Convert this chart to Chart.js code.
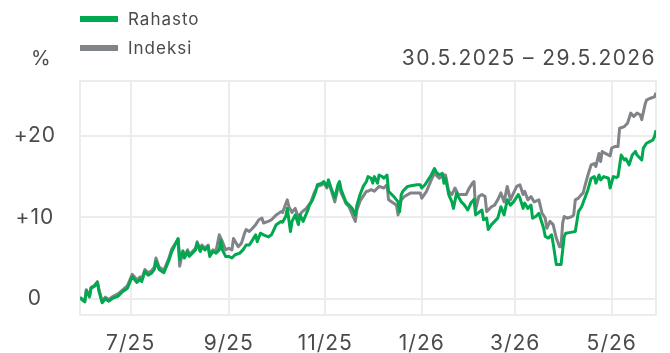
<!DOCTYPE html>
<html lang="fi">
<head>
<meta charset="utf-8">
<title>Rahasto vs Indeksi</title>
<script src="https://cdn.jsdelivr.net/npm/chart.js@4.4.1/dist/chart.umd.min.js"></script>
<style>
  body { margin: 0; background: #fff; font-family: Inter, "Noto Sans", sans-serif; color: #4a4a4a; }
  .wrap { position: relative; width: 670px; height: 353px; }
  #perfChart { position: absolute; left: 0; top: 0; }
  .legend { position: absolute; left: 80px; top: 4px; font-size: 17px; letter-spacing: 1px; }
  .legend div { display: flex; align-items: center; height: 29px; }
  .legend span.sw { display: inline-block; width: 38px; height: 6px; margin-right: 10px; }
  .unit { position: absolute; left: 31px; top: 46px; font-size: 20px; }
  .period { position: absolute; right: 14px; top: 45px; font-size: 21px; letter-spacing: 1.4px; }
</style>
</head>
<body>
<div class="wrap">
  <canvas id="perfChart" width="670" height="353"></canvas>
  <div class="legend">
    <div><span class="sw" style="background:#00a84f"></span>Rahasto</div>
    <div><span class="sw" style="background:#808387"></span>Indeksi</div>
  </div>
  <div class="unit">%</div>
  <div class="period">30.5.2025 – 29.5.2026</div>
</div>
<script>
// days counted from 30.5.2025
const fundDays = [0, 3, 4, 6, 7, 9, 11, 12, 14, 16, 18, 21, 24, 27, 30, 33, 36, 38, 39, 41, 43, 45, 47, 48, 50, 53, 56, 58,
  62, 63, 65, 66, 68, 69, 71, 73, 74, 76, 77, 79, 81, 82, 84, 86, 88, 89, 90, 92, 94, 96, 98, 101, 103, 105, 107, 109, 111,
  112, 114, 116, 119, 121, 124, 127, 128, 130, 131, 133, 134, 136, 138, 139, 141, 144, 145, 147, 149, 150, 153, 154, 156,
  157, 159, 161, 163, 164, 165, 167, 168, 170, 172, 174, 175, 177, 179, 181, 182, 184, 185, 186, 188, 189, 191, 192, 194,
  195, 197, 199, 201, 202, 203, 204, 207, 210, 213, 215, 216, 218, 220, 222, 224, 225, 227, 229, 230, 231, 233, 235, 236,
  238, 239, 241, 243, 245, 247, 249, 250, 252, 254, 255, 257, 258, 260, 262, 264, 266, 268, 270, 272, 274, 275, 277, 278,
  280, 281, 283, 285, 286, 288, 290, 293, 294, 296, 298, 299, 301, 304, 306, 307, 310, 313, 315, 317, 319, 321, 323, 325,
  326, 328, 329, 331, 334, 335, 337, 339, 340, 342, 344, 345, 347, 349, 351, 352, 355, 356, 358, 360, 362, 363, 364];
const fundValues = [0.1, -0.4, 1.0, 0.3, 1.3, 1.5, 2.0, 0.9, -0.5, 0.0, -0.3, 0.1, 0.3, 0.9, 1.3, 2.7, 2.0, 2.4, 2.1, 3.35,
  2.9, 3.1, 3.6, 4.6, 3.6, 3.2, 4.6, 5.8, 7.4, 4.8, 5.8, 5.0, 5.8, 5.2, 5.6, 6.0, 6.8, 5.8, 6.4, 6.0, 6.4, 5.2, 5.8, 5.6, 6.0,
  7.2, 6.0, 5.2, 5.2, 5.0, 5.4, 5.6, 6.0, 6.6, 6.6, 7.2, 7.85, 7.0, 8.05, 7.85, 7.6, 7.85, 9.1, 9.5, 9.4, 10.1, 11.1, 8.25,
  9.5, 10.3, 9.1, 10.3, 9.5, 10.9, 11.5, 12.15, 13.2, 14.0, 14.2, 14.4, 13.8, 14.6, 13.4, 12.4, 14.0, 14.4, 13.4, 12.4, 11.9,
  11.5, 11.1, 10.3, 11.5, 12.8, 13.8, 14.4, 15.0, 14.8, 14.2, 15.0, 14.2, 15.2, 15.0, 14.8, 15.2, 13.2, 12.8, 12.4, 11.9,
  10.7, 12.8, 13.2, 13.8, 13.9, 14.0, 14.0, 13.6, 14.0, 14.6, 15.2, 16.0, 15.6, 15.2, 15.4, 14.2, 14.8, 12.8, 11.9, 11.1,
  13.0, 12.55, 11.9, 11.5, 10.9, 11.75, 12.2, 10.3, 10.6, 10.9, 9.7, 9.9, 8.5, 9.1, 9.5, 9.9, 11.3, 10.3, 12.15, 11.5, 11.9,
  12.2, 12.8, 12.4, 11.1, 11.75, 11.1, 11.5, 9.9, 10.1, 10.5, 8.65, 7.65, 7.45, 7.85, 6.8, 4.2, 4.2, 7.65, 8.05, 8.15, 8.25,
  10.7, 11.3, 12.35, 13.4, 14.8, 15.0, 14.2, 15.2, 14.6, 15.0, 14.8, 13.6, 15.0, 14.9, 15.0, 17.65, 17.05, 17.2, 16.45,
  17.65, 18.1, 17.65, 17.05, 18.5, 19.1, 19.3, 19.5, 19.9, 20.7];

const indexDays = [0, 3, 4, 6, 7, 9, 11, 12, 14, 16, 18, 21, 24, 27, 30, 33, 36, 38, 39, 41, 43, 45, 47, 48, 50, 53, 56, 58,
  62, 63, 65, 66, 68, 69, 71, 73, 74, 76, 77, 79, 81, 82, 84, 86, 88, 90, 92, 94, 96, 97, 100, 102, 104, 105, 107, 109, 111,
  113, 115, 116, 119, 121, 124, 127, 128, 131, 132, 134, 136, 138, 140, 143, 146, 148, 150, 153, 154, 156, 157, 159, 161,
  163, 164, 165, 167, 168, 170, 172, 174, 175, 177, 179, 181, 182, 184, 186, 189, 192, 194, 195, 198, 200, 201, 203, 205,
  209, 215, 216, 219, 222, 224, 227, 230, 231, 233, 235, 237, 239, 241, 244, 246, 248, 249, 250, 252, 254, 256, 257, 260,
  262, 264, 266, 268, 270, 272, 274, 276, 278, 280, 281, 283, 285, 287, 290, 292, 294, 295, 297, 299, 301, 303, 304, 305,
  306, 308, 311, 312, 313, 315, 316, 318, 319, 321, 323, 325, 326, 328, 329, 330, 332, 335, 336, 338, 340, 341, 344, 346,
  348, 350, 352, 354, 355, 357, 358, 360, 363, 364];
const indexValues = [0.2, -0.3, 1.1, 0.2, 1.4, 1.6, 2.1, 1.1, -0.3, 0.2, -0.1, 0.3, 0.6, 1.1, 1.6, 3.0, 2.3, 2.7, 2.4, 3.6,
  3.2, 3.4, 3.9, 5.0, 3.9, 3.5, 4.9, 6.1, 7.3, 4.0, 5.9, 5.2, 6.0, 5.4, 5.8, 6.2, 7.0, 6.0, 6.6, 6.2, 6.6, 5.4, 6.0, 5.9,
  7.85, 7.0, 6.0, 6.2, 6.0, 7.4, 6.4, 6.8, 8.05, 8.5, 8.25, 8.65, 9.1, 9.7, 9.9, 9.3, 9.5, 9.7, 10.3, 10.7, 10.6, 12.15,
  11.3, 10.6, 11.1, 10.0, 10.6, 11.1, 11.9, 13.0, 13.8, 14.0, 14.3, 13.6, 14.4, 13.2, 11.9, 13.6, 14.0, 13.0, 12.2, 11.7,
  11.3, 10.4, 9.5, 10.9, 12.0, 12.6, 13.2, 13.2, 13.4, 13.2, 13.8, 13.6, 14.0, 12.15, 11.75, 11.5, 10.3, 12.15, 12.55, 13.0,
  13.0, 12.35, 13.2, 14.6, 15.4, 14.8, 15.2, 15.2, 13.2, 12.8, 13.6, 12.8, 12.8, 12.8, 13.6, 14.2, 14.4, 10.9, 12.55, 12.8,
  12.55, 10.7, 11.3, 11.5, 12.15, 13.0, 11.9, 13.8, 12.15, 13.0, 13.8, 14.0, 12.8, 13.2, 12.15, 12.55, 11.9, 12.15, 10.5,
  9.9, 8.65, 9.5, 9.1, 7.45, 6.4, 6.4, 9.3, 10.1, 9.9, 10.1, 10.3, 12.15, 12.35, 12.6, 13.0, 13.8, 15.2, 16.45, 16.6, 16.25,
  17.85, 16.85, 18.1, 17.85, 17.55, 18.5, 18.7, 18.7, 20.95, 21.15, 21.55, 22.8, 22.4, 22.8, 22.6, 22.0, 23.8, 24.4, 24.6,
  24.8, 25.3];

// x-axis ticks on the first day of every other month
const monthTickDays = [32, 94, 155, 216, 275, 336];
const monthTickLabels = ['7/25', '9/25', '11/25', '1/26', '3/26', '5/26'];
const yTickValues = [0, 10, 20];

const gridColor = '#ececec';
const axisFont = { family: 'Inter', size: 21 };

// light frame round the plot area, and a bit wider spacing for axis text
const frame = {
  id: 'frame',
  beforeUpdate(chart) { chart.ctx.letterSpacing = '1px'; },
  beforeDraw(chart) { chart.ctx.letterSpacing = '1px'; },
  beforeDatasetsDraw(chart) {
    const { ctx, chartArea: a } = chart;
    ctx.save();
    ctx.strokeStyle = gridColor;
    ctx.lineWidth = 2;
    ctx.strokeRect(a.left, a.top, a.right - a.left, a.bottom - a.top);
    ctx.restore();
  }
};

const toPoints = (days, vals) => days.map((d, i) => ({ x: d, y: vals[i] }));

new Chart(document.getElementById('perfChart'), {
  type: 'line',
  data: {
    datasets: [
      { label: 'Rahasto', data: toPoints(fundDays, fundValues), borderColor: '#00a84f', borderWidth: 3 },
      { label: 'Indeksi', data: toPoints(indexDays, indexValues), borderColor: '#808387', borderWidth: 3 }
    ]
  },
  options: {
    responsive: false,
    animation: false,
    events: [],
    elements: { point: { radius: 0 }, line: { tension: 0, borderJoinStyle: 'round' } },
    layout: { padding: { top: 81, right: 14, left: 0, bottom: 0 } },
    plugins: { legend: { display: false }, tooltip: { enabled: false } },
    scales: {
      x: {
        type: 'linear',
        min: 0,
        max: 364,
        afterBuildTicks: (s) => { s.ticks = monthTickDays.map(v => ({ value: v })); },
        afterFit: (s) => { s.height = 38; },
        grid: { color: gridColor, lineWidth: 2, drawTicks: false },
        border: { display: false },
        ticks: {
          padding: 16,
          color: '#4a4a4a',
          font: axisFont,
          maxRotation: 0,
          autoSkip: false,
          callback: (v) => monthTickLabels[monthTickDays.indexOf(v)]
        }
      },
      y: {
        min: -2,
        max: 26.75,
        afterBuildTicks: (s) => { s.ticks = yTickValues.map(v => ({ value: v })); },
        afterFit: (s) => { s.width = 80; },
        grid: { color: gridColor, lineWidth: 2, drawTicks: false },
        border: { display: false },
        ticks: {
          padding: 24,
          crossAlign: 'center',
          color: '#4a4a4a',
          font: axisFont,
          callback: (v) => (v > 0 ? '+' + v : String(v))
        }
      }
    }
  },
  plugins: [frame]
});
</script>
</body>
</html>
